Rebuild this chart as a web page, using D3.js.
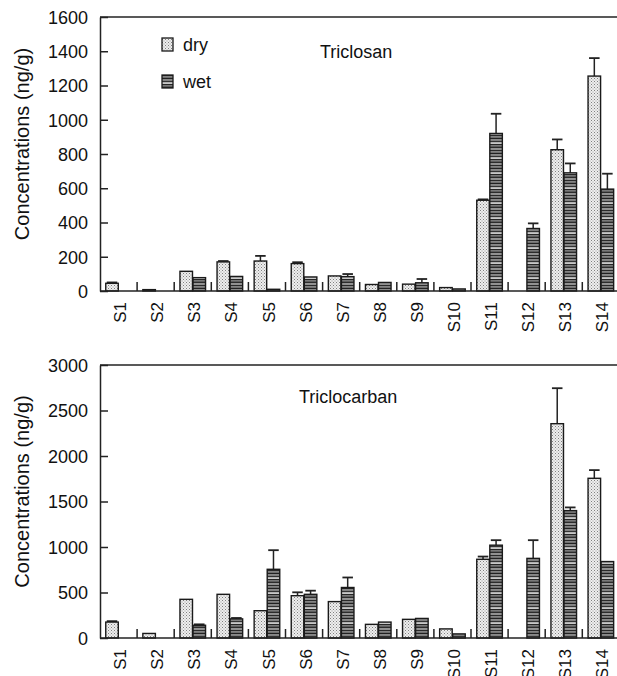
<!DOCTYPE html>
<html>
<head>
<meta charset="utf-8">
<script src="https://cdn.jsdelivr.net/npm/d3@7"></script>
<style>
  body { margin: 0; background: #fff; }
  svg { display: block; font-family: "Liberation Sans", Arial, sans-serif; }
  .axis path, .axis line { stroke: #222; stroke-width: 1.5; }
  .axis text { fill: #111; font-size: 18px; }
</style>
</head>
<body>
<svg id="chart" width="617" height="676"></svg>
<script>
var sites = ['S1','S2','S3','S4','S5','S6','S7','S8','S9','S10','S11','S12','S13','S14'];

// Triclosan (ng/g)
var tcsDry    = [45, 8, 115, 170, 175, 160, 88, 38, 40, 20, 530, 0, 825, 1255];
var tcsDryErr = [5, 0, 0, 5, 30, 8, 0, 0, 0, 0, 5, 0, 60, 105];
var tcsWet    = [0, 0, 78, 85, 10, 82, 84, 50, 48, 12, 920, 365, 690, 595];
var tcsWetErr = [0, 0, 0, 0, 0, 0, 15, 0, 22, 0, 115, 30, 55, 90];
var tcsTicks  = [0, 200, 400, 600, 800, 1000, 1200, 1400, 1600];

// Triclocarban (ng/g)
var tccDry    = [175, 50, 425, 480, 300, 465, 400, 150, 205, 100, 865, 0, 2355, 1755];
var tccDryErr = [10, 0, 0, 0, 0, 37, 0, 0, 0, 0, 30, 0, 390, 90];
var tccWet    = [0, 0, 140, 210, 755, 480, 555, 175, 215, 45, 1020, 875, 1400, 840];
var tccWetErr = [0, 0, 10, 10, 210, 40, 110, 0, 0, 0, 55, 200, 35, 0];
var tccTicks  = [0, 500, 1000, 1500, 2000, 2500, 3000];

var series = ['dry', 'wet'];

var svg = d3.select('#chart');
var defs = svg.append('defs');

// stipple for dry
var pd = defs.append('pattern').attr('id', 'pDry').attr('patternUnits', 'userSpaceOnUse')
  .attr('width', 3).attr('height', 3);
pd.append('rect').attr('width', 3).attr('height', 3).attr('fill', '#eeeeee');
pd.append('rect').attr('x', 0).attr('y', 0).attr('width', 1).attr('height', 1).attr('fill', '#808080');
pd.append('rect').attr('x', 1.5).attr('y', 1.5).attr('width', 1).attr('height', 1).attr('fill', '#9a9a9a');

// horizontal stripes for wet
var stripeCols = ['#2a2a2a', '#707070', '#222', '#808080', '#333', '#c8c8c8', '#262626', '#5e5e5e', '#2c2c2c', '#909090'];
var pw = defs.append('pattern').attr('id', 'pWet').attr('patternUnits', 'userSpaceOnUse')
  .attr('width', 4).attr('height', stripeCols.length * 1.5);
stripeCols.forEach(function(c, i){
  pw.append('rect').attr('x', 0).attr('y', i * 1.5).attr('width', 4).attr('height', 1.5).attr('fill', c);
});

var fills = { dry: 'url(#pDry)', wet: 'url(#pWet)' };

var x = d3.scaleBand().domain(sites).range([100, 619.4]).paddingInner(0.31).paddingOuter(0.155);
var xs = d3.scaleBand().domain(series).range([0, x.bandwidth()]).paddingInner(0.04);

function panel(top, bottom, ticks, dry, dryErr, wet, wetErr, title, titleX, titleY) {
  var g = svg.append('g');
  var y = d3.scaleLinear().domain([0, ticks[ticks.length - 1]]).range([bottom, top]);

  // frame top line
  g.append('line').attr('x1', 100).attr('x2', 619.4).attr('y1', top).attr('y2', top)
    .attr('stroke', '#222').attr('stroke-width', 1.5);

  var rows = sites.map(function(s, i){
    return [{ s: s, k: 'dry', v: dry[i], e: dryErr[i] }, { s: s, k: 'wet', v: wet[i], e: wetErr[i] }];
  });
  var flat = [].concat.apply([], rows).filter(function(d){ return d.v > 0; });

  // error bars
  var eb = g.selectAll('g.err').data(flat.filter(function(d){ return d.e > 0; })).enter().append('g');
  eb.append('line')
    .attr('x1', function(d){ return x(d.s) + xs(d.k) + xs.bandwidth() / 2; })
    .attr('x2', function(d){ return x(d.s) + xs(d.k) + xs.bandwidth() / 2; })
    .attr('y1', function(d){ return y(d.v); })
    .attr('y2', function(d){ return y(d.v + d.e); })
    .attr('stroke', '#222').attr('stroke-width', 1.5);
  eb.append('line')
    .attr('x1', function(d){ return x(d.s) + xs(d.k) + xs.bandwidth() * 0.08; })
    .attr('x2', function(d){ return x(d.s) + xs(d.k) + xs.bandwidth() * 0.92; })
    .attr('y1', function(d){ return y(d.v + d.e); })
    .attr('y2', function(d){ return y(d.v + d.e); })
    .attr('stroke', '#222').attr('stroke-width', 1.8);

  g.selectAll('rect.bar').data(flat).enter().append('rect')
    .attr('x', function(d){ return x(d.s) + xs(d.k); })
    .attr('y', function(d){ return y(d.v); })
    .attr('width', xs.bandwidth())
    .attr('height', function(d){ return y(0) - y(d.v); })
    .attr('fill', function(d){ return fills[d.k]; })
    .attr('stroke', '#1a1a1a').attr('stroke-width', 1.4);

  // y axis (inward ticks)
  var ya = g.append('g').attr('class', 'axis').attr('transform', 'translate(100,0)')
    .call(d3.axisLeft(y).tickValues(ticks).tickFormat(d3.format('d'))
      .tickSizeInner(-8).tickSizeOuter(0).tickPadding(12));
  ya.selectAll('text').attr('dy', '0.36em');

  // x axis with category separator ticks
  g.append('line').attr('x1', 100).attr('x2', 619.4).attr('y1', bottom).attr('y2', bottom)
    .attr('stroke', '#222').attr('stroke-width', 1.5);
  g.selectAll('line.sep').data(sites.slice(1)).enter().append('line')
    .attr('x1', function(s){ return x(s) - x.step() * x.paddingInner() / 2; })
    .attr('x2', function(s){ return x(s) - x.step() * x.paddingInner() / 2; })
    .attr('y1', bottom).attr('y2', bottom - 9)
    .attr('stroke', '#222').attr('stroke-width', 1.5);

  g.selectAll('text.xl').data(sites).enter().append('text')
    .attr('transform', function(s){ return 'translate(' + (x(s) + x.bandwidth() / 2 + 1.5) + ',' + (bottom + 11) + ')rotate(-90)'; })
    .attr('text-anchor', 'end').attr('dy', '0.36em')
    .attr('font-size', 17).attr('fill', '#111')
    .text(function(s){ return s; });

  g.append('text')
    .attr('transform', 'translate(29,' + ((top + bottom) / 2 - 10) + ')rotate(-90)')
    .attr('text-anchor', 'middle').attr('font-size', 20).attr('fill', '#111')
    .text('Concentrations (ng/g)');

  g.append('text').attr('x', titleX).attr('y', titleY).attr('font-size', 18).attr('fill', '#111').text(title);
  return g;
}

panel(17, 291, tcsTicks, tcsDry, tcsDryErr, tcsWet, tcsWetErr, 'Triclosan', 320, 58);
panel(365, 638, tccTicks, tccDry, tccDryErr, tccWet, tccWetErr, 'Triclocarban', 299, 403);

// legend
var lg = svg.append('g');
lg.selectAll('rect').data(series).enter().append('rect')
  .attr('x', 162).attr('y', function(d, i){ return 38 + i * 37; })
  .attr('width', 11).attr('height', 13)
  .attr('fill', function(d){ return fills[d]; })
  .attr('stroke', '#1a1a1a').attr('stroke-width', 1.3);
lg.selectAll('text').data(series).enter().append('text')
  .attr('x', 183).attr('y', function(d, i){ return 51 + i * 37; })
  .attr('font-size', 18).attr('fill', '#111')
  .text(function(d){ return d; });
</script>
</body>
</html>
